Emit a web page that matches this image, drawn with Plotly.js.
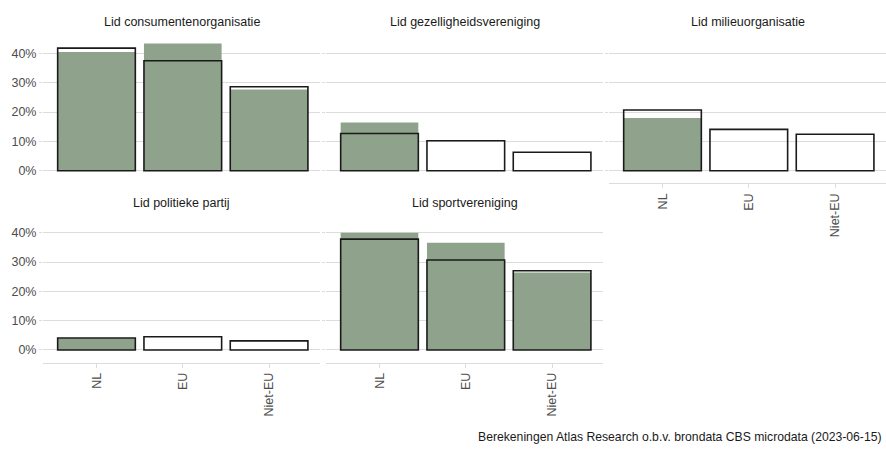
<!DOCTYPE html>
<html>
<head>
<meta charset="utf-8">
<script src="https://cdn.plot.ly/plotly-3.0.1.min.js"></script>
<style>html,body{margin:0;padding:0;background:#fff;}#chart{width:886px;height:453px;}</style>
</head>
<body>
<div id="chart"></div>
<script>
// ---- data (percentages) ----
const categories = ['NL', 'EU', 'Niet-EU'];
const facetTitles = ['Lid consumentenorganisatie', 'Lid gezelligheidsvereniging', 'Lid milieuorganisatie', 'Lid politieke partij', 'Lid sportvereniging'];

const consumentGroen = [40.5, 43.4, 27.7];
const consumentLijn  = [41.8, 37.5, 28.6];
const gezelligGroen  = [16.4, null, null];
const gezelligLijn   = [12.7, 10.2, 6.3];
const milieuGroen    = [18.0, null, null];
const milieuLijn     = [20.7, 14.1, 12.4];
const politiekGroen  = [4.0, null, null];
const politiekLijn   = [4.1, 4.5, 3.1];
const sportGroen     = [40.0, 36.6, 26.4];
const sportLijn      = [37.8, 30.7, 27.0];

const yTicks = [0, 10, 20, 30, 40];
const yTickLabels = ['0%', '10%', '20%', '30%', '40%'];
const caption = 'Berekeningen Atlas Research o.b.v. brondata CBS microdata (2023-06-15)';

const groenSeries = [consumentGroen, gezelligGroen, milieuGroen, politiekGroen, sportGroen];
const lijnSeries  = [consumentLijn, gezelligLijn, milieuLijn, politiekLijn, sportLijn];

// ---- layout helpers ----
const W = 886, H = 453;
const px = v => v / W;
const py = v => 1 - v / H;
const colL = [43, 326, 609];
const panelW = 277;
const rowTop = [30.7, 210];
const rowBot = [183.4, 362.7];
const panels = [
  {col: 0, row: 0}, {col: 1, row: 0}, {col: 2, row: 0},
  {col: 0, row: 1}, {col: 1, row: 1}
];
const showX = [false, false, true, true, true];
const showY = [true, false, false, true, false];

const green = '#8fa38c';
const grid = '#dcdcdc';
const font = 'Liberation Sans, Arial, sans-serif';
const fs = 12.5;

const traces = [];
const layout = {
  width: W, height: H, autosize: false,
  margin: {l: 0, r: 0, t: 0, b: 0},
  paper_bgcolor: '#fff', plot_bgcolor: 'rgba(0,0,0,0)',
  showlegend: false,
  barmode: 'overlay',
  font: {family: font, size: fs, color: '#4d4d4d'},
  annotations: []
};

panels.forEach((p, i) => {
  const n = i === 0 ? '' : String(i + 1);
  const xa = 'x' + n, ya = 'y' + n;
  traces.push({
    type: 'bar', x: categories, y: groenSeries[i], xaxis: xa, yaxis: ya,
    width: 0.9, marker: {color: green, line: {width: 0}}, hoverinfo: 'skip'
  });
  traces.push({
    type: 'bar', x: categories, y: lijnSeries[i], xaxis: xa, yaxis: ya,
    width: 0.9, marker: {color: 'rgba(0,0,0,0)', line: {color: '#1a1a1a', width: 1.6}}, hoverinfo: 'skip'
  });
  const x0 = colL[p.col], x1 = colL[p.col] + panelW;
  layout['xaxis' + n] = {
    domain: [px(x0), px(x1)], anchor: ya,
    type: 'category', categoryorder: 'array', categoryarray: categories,
    range: [-0.62, 2.59], showgrid: false, zeroline: false,
    showline: showX[i], linecolor: grid, linewidth: 1,
    ticks: showX[i] ? 'outside' : '', ticklen: 4, tickcolor: grid,
    showticklabels: showX[i], tickangle: -90,
    tickfont: {family: font, size: fs, color: '#4d4d4d'}
  };
  layout['yaxis' + n] = {
    domain: [py(rowBot[p.row]), py(rowTop[p.row])], anchor: xa,
    range: [-4.34, 47.74], tickmode: 'array', tickvals: yTicks, ticktext: yTickLabels,
    showgrid: true, gridcolor: grid, gridwidth: 1, zeroline: false,
    showline: false, ticks: 'outside', ticklen: 3, tickcolor: grid,
    showticklabels: showY[i],
    tickfont: {family: font, size: fs, color: '#4d4d4d'}
  };
  layout.annotations.push({
    text: facetTitles[i], xref: 'paper', yref: 'paper',
    x: px((x0 + x1) / 2), y: py(p.row === 0 ? 22 : 203),
    xanchor: 'center', yanchor: 'middle', showarrow: false,
    font: {family: font, size: fs, color: '#1a1a1a'}
  });
});

layout.annotations.push({
  text: caption, xref: 'paper', yref: 'paper',
  x: px(884), y: py(437), xanchor: 'right', yanchor: 'middle', showarrow: false,
  font: {family: font, size: 12.2, color: '#1a1a1a'}
});

Plotly.newPlot('chart', traces, layout, {staticPlot: true, displayModeBar: false});
</script>
</body>
</html>
